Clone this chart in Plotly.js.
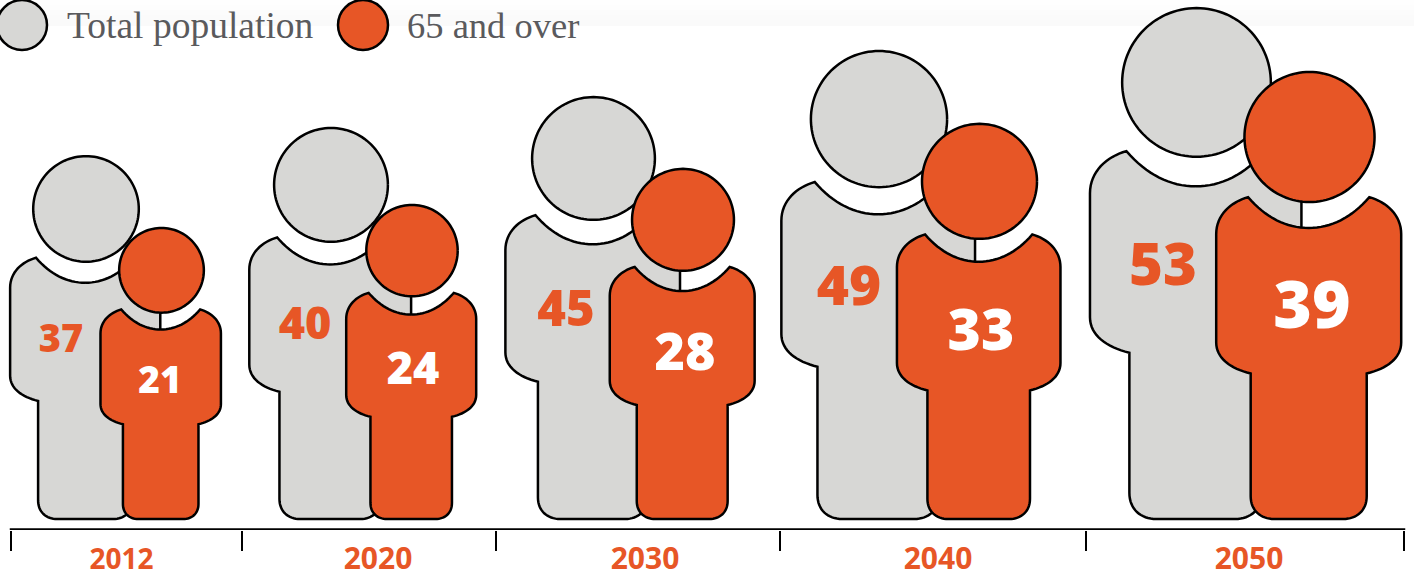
<!DOCTYPE html>
<html>
<head>
<meta charset="utf-8">
<script src="https://cdn.plot.ly/plotly-3.0.1.min.js"></script>
<style>html,body{margin:0;padding:0;background:#fff;overflow:hidden}</style>
</head>
<body>
<div id="chart" style="width:1414px;height:571px"></div>
<script>
// Population figures, millions
const years = ['2012', '2020', '2030', '2040', '2050'];
const totalPopulation = [37, 40, 45, 49, 53];
const over65 = [21, 24, 28, 33, 39];

// Pictogram placement on the x/y scales of the plot
const totalCentre = [86, 331, 593.5, 879, 1196.5];
const totalHead = [105.6, 113.8, 122.8, 136.2, 148.7];
const over65Centre = [161.5, 412, 683, 979.5, 1309.5];
const over65Head = [84.7, 91.4, 101.9, 115, 130.1];
const groundLine = 519;
const bodyOffset = -0.8;

const totalLabelX = [61, 305, 566, 849, 1163];
const totalLabelY = [342, 328, 314, 291, 270];
const totalLabelSize = [38, 45, 49, 55, 58];
const over65LabelX = [160, 413, 685, 981, 1312];
const over65LabelY = [384, 373, 357, 336, 311];
const over65LabelSize = [37, 45, 52, 57, 66];

const bracketTicks = [11, 242, 496, 780, 1086, 1404];
const bracketLevel = 529.5;
const yearCentres = [121.5, 378, 645, 938, 1249];

const GREY = '#d7d7d5';
const ORANGE = '#e75626';
const OUTLINE = 2.5;

// Person outline in head-diameter units: x from the body axis, y down from the crown.
// Left half as cubic segments; the right half is its mirror image.
const bodyStart = [0, 1.199];
const leftHalf = [
  [[-0.17, 1.199], [-0.33, 1.12], [-0.466, 0.962]],
  [[-0.60, 1.00], [-0.711, 1.10], [-0.711, 1.246]],
  [[-0.711, 1.6], [-0.711, 1.8], [-0.711, 2.079]],
  [[-0.711, 2.20], [-0.60, 2.28], [-0.446, 2.318]],
  [[-0.446, 2.6], [-0.446, 3.0], [-0.446, 3.26]],
  [[-0.446, 3.37], [-0.37, 3.436], [-0.265, 3.436]],
  [[-0.15, 3.436], [-0.05, 3.436], [0, 3.436]]
];

function sampleHalf() {
  const pts = [bodyStart.slice()];
  let p0 = bodyStart;
  leftHalf.forEach(seg => {
    const [c1, c2, p3] = seg;
    for (let i = 1; i <= 16; i++) {
      const t = i / 16, u = 1 - t;
      pts.push([
        u*u*u*p0[0] + 3*u*u*t*c1[0] + 3*u*t*t*c2[0] + t*t*t*p3[0],
        u*u*u*p0[1] + 3*u*u*t*c1[1] + 3*u*t*t*c2[1] + t*t*t*p3[1]
      ]);
    }
    p0 = p3;
  });
  return pts;
}
const halfOutline = sampleHalf();
const fullOutline = halfOutline.concat(halfOutline.slice().reverse().map(p => [-p[0], p[1]]));

function bodyTrace(cx, d, colour) {
  const top = groundLine - 3.436 * d;
  return {
    type: 'scatter', mode: 'lines', fill: 'toself', fillcolor: colour,
    x: fullOutline.map(p => cx + bodyOffset + p[0] * d),
    y: fullOutline.map(p => top + p[1] * d),
    line: {color: '#000', width: OUTLINE, simplify: false}, hoverinfo: 'skip', cliponaxis: false
  };
}
function headTrace(cx, d, colour) {
  const cy = groundLine - 3.436 * d + d / 2;
  const xs = [], ys = [];
  for (let i = 0; i <= 120; i++) {
    const a = i / 120 * 2 * Math.PI;
    xs.push(cx + Math.cos(a) * d / 2);
    ys.push(cy + Math.sin(a) * d / 2);
  }
  return {
    type: 'scatter', mode: 'lines', fill: 'toself', fillcolor: colour,
    x: xs, y: ys, line: {color: '#000', width: OUTLINE, simplify: false}, hoverinfo: 'skip', cliponaxis: false
  };
}

const traces = [];
years.forEach((y, i) => {
  traces.push(bodyTrace(totalCentre[i], totalHead[i], GREY));
  traces.push(headTrace(totalCentre[i], totalHead[i], GREY));
  traces.push(bodyTrace(over65Centre[i], over65Head[i], ORANGE));
  traces.push(headTrace(over65Centre[i], over65Head[i], ORANGE));
});

// Horizontal run of the year brackets
traces.push({
  type: 'scatter', mode: 'lines',
  x: [bracketTicks[0] - OUTLINE / 2, bracketTicks[bracketTicks.length - 1] + OUTLINE / 2],
  y: [bracketLevel, bracketLevel],
  line: {color: '#000', width: OUTLINE}, hoverinfo: 'skip', cliponaxis: false
});

const numberFont = 'Open Sans, sans-serif';
traces.push({
  type: 'scatter', mode: 'text', x: totalLabelX, y: totalLabelY,
  text: totalPopulation.map(String), hoverinfo: 'skip', cliponaxis: false,
  textfont: {family: numberFont, size: totalLabelSize, color: ORANGE, weight: 800}
});
traces.push({
  type: 'scatter', mode: 'text', x: over65LabelX, y: over65LabelY,
  text: over65.map(String), hoverinfo: 'skip', cliponaxis: false,
  textfont: {family: numberFont, size: over65LabelSize, color: '#fff', weight: 800}
});

// Key at the top of the chart
traces.push({
  type: 'scatter', mode: 'markers', x: [22, 363], y: [25, 25],
  marker: {size: 50, color: [GREY, ORANGE], line: {color: '#000', width: OUTLINE}},
  hoverinfo: 'skip', cliponaxis: false
});

const keyFont = {family: 'Liberation Serif, serif', color: '#5a5a5d'};
const topWash = [0, 5, 10, 15, 20].map(y0 => ({
  type: 'rect', xref: 'paper', yref: 'y', layer: 'below',
  x0: 0, x1: 1, y0: y0, y1: 26,
  fillcolor: 'rgba(236,236,218,0.035)', line: {width: 0}
}));

Plotly.newPlot('chart', traces, {
  width: 1414, height: 571,
  margin: {l: 0, r: 0, t: 0, b: 41, pad: 0},
  paper_bgcolor: '#fff', plot_bgcolor: 'rgba(0,0,0,0)',
  showlegend: false,
  shapes: topWash,
  xaxis: {
    range: [0, 1414], showgrid: false, zeroline: false, showline: false,
    tickmode: 'array', tickvals: yearCentres,
    ticktext: years.map((y, i) => i === 0 ? '<span style="font-size:28px">' + y + '</span>' : y),
    ticks: '', ticklabelstandoff: 8,
    tickfont: {family: numberFont, size: 30, color: ORANGE, weight: 700},
    minor: {tickmode: 'array', tickvals: bracketTicks, ticks: 'outside', ticklen: 20, tickwidth: OUTLINE, tickcolor: '#000', showgrid: false}
  },
  yaxis: {range: [530, 0], visible: false, fixedrange: true},
  annotations: [
    {x: 64.5, y: 25, text: 'Total population', xanchor: 'left', yanchor: 'middle', showarrow: false, font: Object.assign({size: 37.5}, keyFont)},
    {x: 405, y: 25, text: '65 and over', xanchor: 'left', yanchor: 'middle', showarrow: false, font: Object.assign({size: 36.5}, keyFont)}
  ]
}, {displayModeBar: false, staticPlot: true});
</script>
</body>
</html>
